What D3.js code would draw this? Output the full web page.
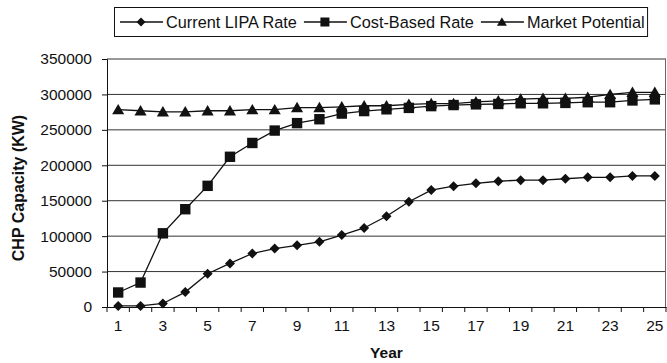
<!DOCTYPE html>
<html>
<head>
<meta charset="utf-8">
<script src="https://cdn.jsdelivr.net/npm/d3@7"></script>
<style>
  html, body { margin: 0; padding: 0; background: #fff; }
  svg { display: block; }
</style>
</head>
<body>
<script>
const WIDTH = 667;
const HEIGHT = 363;
const FONT = '"Liberation Sans", Arial, Helvetica, sans-serif';
const INK = '#111';

// data
const years = d3.range(1, 26);
const currentLipa = [
  1500, 1500, 5000, 21000, 47000, 61500, 75500, 82500, 87000, 92000,
  101500, 111500, 128000, 148500, 165000, 170500, 174500, 177500, 179000, 179000,
  181000, 183000, 183000, 185000, 185000
];
const costBased = [
  20500, 34500, 104000, 138000, 171000, 212000, 231500, 249000, 259500, 265000,
  273000, 276500, 279000, 281000, 283500, 285000, 286000, 286500, 287500, 287500,
  288000, 289000, 289000, 291500, 293000
];
const marketPotential = [
  278500, 277000, 275500, 275500, 277000, 277000, 278500, 278500, 281500, 281500,
  282500, 284000, 284000, 286000, 287000, 287000, 289500, 291000, 293500, 294500,
  294500, 296000, 300000, 303000, 303000
];
const yTicks = d3.range(0, 350001, 50000);
const xLabels = years.filter(d => d % 2 === 1);
const seriesNames = ['Current LIPA Rate', 'Cost-Based Rate', 'Market Potential'];
const seriesShapes = ['diamond', 'square', 'triangle'];

const plot = { left: 107, right: 666, top: 59, bottom: 307 };

const svg = d3.select('body').append('svg')
  .attr('width', WIDTH)
  .attr('height', HEIGHT)
  .attr('viewBox', `0 0 ${WIDTH} ${HEIGHT}`)
  .style('background', '#fff');

const x = d3.scaleBand().domain(years).range([plot.left, plot.right]).padding(0);
const y = d3.scaleLinear().domain([0, 350000]).range([plot.bottom, plot.top]);
const cx = d => x(d) + x.bandwidth() / 2;

// gridlines
svg.append('g')
  .selectAll('line')
  .data(yTicks.filter(d => d > 0))
  .join('line')
  .attr('x1', plot.left).attr('x2', plot.right)
  .attr('y1', d => y(d)).attr('y2', d => y(d))
  .attr('stroke', '#333')
  .attr('stroke-width', 1);

// right border
svg.append('line')
  .attr('x1', plot.right - 0.5).attr('x2', plot.right - 0.5)
  .attr('y1', plot.top).attr('y2', plot.bottom)
  .attr('stroke', '#666')
  .attr('stroke-width', 1);

// y axis
const yAxis = svg.append('g')
  .attr('transform', `translate(${plot.left},0)`)
  .call(d3.axisLeft(y).tickValues(yTicks).tickSize(5).tickPadding(10).tickFormat(d3.format('d')));
yAxis.select('.domain').attr('stroke', INK);
yAxis.selectAll('.tick line').attr('stroke', INK);
yAxis.selectAll('text')
  .attr('font-family', FONT)
  .attr('font-size', 15.5)
  .attr('fill', INK);

// x axis: labels on odd years, ticks on category boundaries
const xAxis = svg.append('g')
  .attr('transform', `translate(0,${plot.bottom})`)
  .call(d3.axisBottom(x).tickValues(xLabels).tickSize(0).tickPadding(13));
xAxis.select('.domain').attr('stroke', INK);
xAxis.selectAll('text')
  .attr('font-family', FONT)
  .attr('font-size', 15.5)
  .attr('fill', INK);

svg.append('g')
  .selectAll('line')
  .data(years.map(d => x(d)).concat([x(years[years.length - 1]) + x.bandwidth()]))
  .join('line')
  .attr('x1', d => d).attr('x2', d => d)
  .attr('y1', plot.bottom).attr('y2', plot.bottom + 5)
  .attr('stroke', INK)
  .attr('stroke-width', 1);

// axis titles
svg.append('text')
  .attr('x', (plot.left + plot.right) / 2)
  .attr('y', 358)
  .attr('text-anchor', 'middle')
  .attr('font-family', FONT)
  .attr('font-size', 15.5)
  .attr('font-weight', 700)
  .attr('fill', INK)
  .text('Year');

svg.append('text')
  .attr('transform', 'translate(24,188) rotate(-90)')
  .attr('text-anchor', 'middle')
  .attr('font-family', FONT)
  .attr('font-size', 16)
  .attr('font-weight', 700)
  .attr('fill', INK)
  .text('CHP Capacity (KW)');

// markers
function marker(g, shape, px, py, s) {
  if (shape === 'diamond') {
    g.append('path')
      .attr('d', `M${px},${py - s}L${px + s},${py}L${px},${py + s}L${px - s},${py}Z`)
      .attr('fill', INK);
  } else if (shape === 'square') {
    g.append('rect')
      .attr('x', px - s).attr('y', py - s)
      .attr('width', 2 * s).attr('height', 2 * s)
      .attr('fill', INK);
  } else {
    g.append('path')
      .attr('d', `M${px},${py - s * 1.05}L${px + s * 1.1},${py + s * 0.85}L${px - s * 1.1},${py + s * 0.85}Z`)
      .attr('fill', INK);
  }
}

const line = d3.line().x((d, i) => cx(years[i])).y(d => y(d));
const allSeries = [currentLipa, costBased, marketPotential];
const sizes = [5, 5.2, 5.5];

allSeries.forEach((vals, k) => {
  svg.append('path')
    .datum(vals)
    .attr('d', line)
    .attr('fill', 'none')
    .attr('stroke', INK)
    .attr('stroke-width', 1.3);
  const g = svg.append('g');
  vals.forEach((v, i) => marker(g, seriesShapes[k], cx(years[i]), y(v), sizes[k]));
});

// legend
const legend = svg.append('g');
const box = legend.append('rect')
  .attr('x', 114.5).attr('y', 7.5)
  .attr('height', 29)
  .attr('fill', '#fff')
  .attr('stroke', INK)
  .attr('stroke-width', 1);

let lx = 120;
const ly = 22;
seriesNames.forEach((name, k) => {
  if (k > 0) lx += 7;
  legend.append('line')
    .attr('x1', lx).attr('x2', lx + 43)
    .attr('y1', ly).attr('y2', ly)
    .attr('stroke', INK)
    .attr('stroke-width', 1.3);
  marker(legend, seriesShapes[k], lx + 21, ly, 4.5);
  const t = legend.append('text')
    .attr('x', lx + 46)
    .attr('y', ly + 5.5)
    .attr('font-family', FONT)
    .attr('font-size', 16.3)
    .attr('fill', INK)
    .text(name);
  lx = lx + 46 + t.node().getComputedTextLength();
});
box.attr('width', lx + 3 - 114.5);
</script>
</body>
</html>
